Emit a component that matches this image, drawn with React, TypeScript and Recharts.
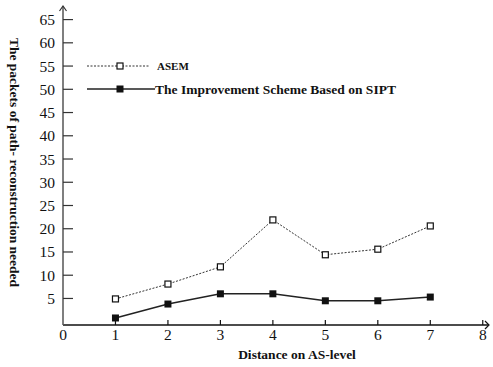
import { LineChart, Line, XAxis, YAxis, Legend } from 'recharts'

const distance = [1, 2, 3, 4, 5, 6, 7]
const asemPackets = [4.9, 8.1, 11.8, 21.9, 14.4, 15.6, 20.6]
const siptPackets = [0.8, 3.8, 6.0, 6.0, 4.5, 4.5, 5.3]
const xTicks = [0, 1, 2, 3, 4, 5, 6, 7, 8]
const yTicks = [5, 10, 15, 20, 25, 30, 35, 40, 45, 50, 55, 60, 65]
const seriesNames = ['ASEM', 'The Improvement Scheme Based on SIPT']

const data = distance.map((d, i) => ({ d, asem: asemPackets[i], sipt: siptPackets[i] }))

const SERIF = '"Liberation Serif", "Times New Roman", serif'
const INK = '#111'

function YTick({ x, y, payload }: any) {
  return (
    <g>
      <line x1={x} x2={x + 10} y1={y} y2={y} stroke="#333" strokeWidth={1.2} />
      <text x={x - 8} y={y} dy={5.5} textAnchor="end" fontSize={15.5} fontFamily={SERIF} fill={INK}>
        {payload.value}
      </text>
    </g>
  )
}

function XTick({ x, y, payload }: any) {
  return (
    <g>
      {payload.value !== 0 && <line x1={x} x2={x} y1={y} y2={y - 5} stroke={INK} strokeWidth={1.2} />}
      <text x={x} y={y} dy={15} textAnchor="middle" fontSize={15.5} fontFamily={SERIF} fill={INK}>
        {payload.value}
      </text>
    </g>
  )
}

function YTitle({ viewBox }: any) {
  const ax = viewBox.x + viewBox.width
  const top = viewBox.y
  const cx = 14
  const cy = top + viewBox.height / 2 - 6
  return (
    <g>
      <line x1={ax} x2={ax} y1={top} y2={top - 6} stroke="#555" strokeWidth={1.5} />
      <polyline points={`${ax - 3.5},${top - 1} ${ax},${top - 6} ${ax + 3.5},${top - 1}`} fill="none" stroke="#333" strokeWidth={1.2} />
      <text
        x={cx}
        y={cy}
        transform={`rotate(90, ${cx}, ${cy})`}
        textAnchor="middle"
        dominantBaseline="central"
        fontSize={13.5}
        fontWeight="bold"
        fontFamily={SERIF}
        fill={INK}
      >
        The packets of path- reconstruction  needed
      </text>
    </g>
  )
}

function XTitle({ viewBox }: any) {
  const right = viewBox.x + viewBox.width
  const ay = viewBox.y
  return (
    <g>
      <polyline points={`${right - 3},${ay - 4} ${right + 1},${ay} ${right - 3},${ay + 4}`} fill="none" stroke={INK} strokeWidth={1.2} />
      <text x={297} y={ay + 34} textAnchor="middle" fontSize={13.5} fontWeight="bold" fontFamily={SERIF} fill={INK}>
        Distance on AS-level
      </text>
    </g>
  )
}

function HollowSquare({ cx, cy }: any) {
  return <rect x={cx - 3} y={cy - 3} width={6} height={6} fill="#fff" stroke={INK} strokeWidth={1.2} />
}

function FilledSquare({ cx, cy }: any) {
  return <rect x={cx - 3.5} y={cy - 3.5} width={7} height={7} fill={INK} />
}

function LegendBox() {
  return (
    <svg width={330} height={46}>
      <line x1={7} x2={70} y1={11} y2={11} stroke="#333" strokeWidth={1} strokeDasharray="2 1.5" />
      <HollowSquare cx={40} cy={11} />
      <text x={77} y={15} fontSize={11} fontWeight="bold" fontFamily={SERIF} fill={INK}>
        {seriesNames[0]}
      </text>
      <line x1={7} x2={75} y1={34} y2={34} stroke="#222" strokeWidth={1.5} />
      <FilledSquare cx={40} cy={34} />
      <text x={75} y={39} fontSize={13.5} fontWeight="bold" fontFamily={SERIF} fill={INK}>
        {seriesNames[1]}
      </text>
    </svg>
  )
}

export default function App() {
  return (
    <div style={{ position: 'absolute', left: 0, top: 0, background: '#fff' }}>
      <LineChart width={493} height={367} data={data} margin={{ top: 12, right: 5, bottom: 0, left: 0 }}>
        <XAxis
          dataKey="d"
          type="number"
          domain={[0, 8.1]}
          ticks={xTicks}
          height={42}
          tickSize={0}
          tickMargin={0}
          tick={<XTick />}
          axisLine={{ stroke: INK, strokeWidth: 1.5 }}
          label={<XTitle />}
        />
        <YAxis
          type="number"
          domain={[-0.71, 66.63]}
          ticks={yTicks}
          width={63}
          tickSize={0}
          tickMargin={0}
          tick={<YTick />}
          axisLine={{ stroke: '#555', strokeWidth: 1.5 }}
          label={<YTitle />}
        />
        <Legend
          layout="horizontal"
          verticalAlign="middle"
          align="center"
          wrapperStyle={{ left: 80, top: 55, width: 330 }}
          content={<LegendBox />}
        />
        <Line
          dataKey="asem"
          name={seriesNames[0]}
          stroke="#333"
          strokeWidth={1}
          strokeDasharray="2 1.5"
          dot={<HollowSquare />}
          isAnimationActive={false}
        />
        <Line
          dataKey="sipt"
          name={seriesNames[1]}
          stroke="#222"
          strokeWidth={1.5}
          dot={<FilledSquare />}
          isAnimationActive={false}
        />
      </LineChart>
    </div>
  )
}
